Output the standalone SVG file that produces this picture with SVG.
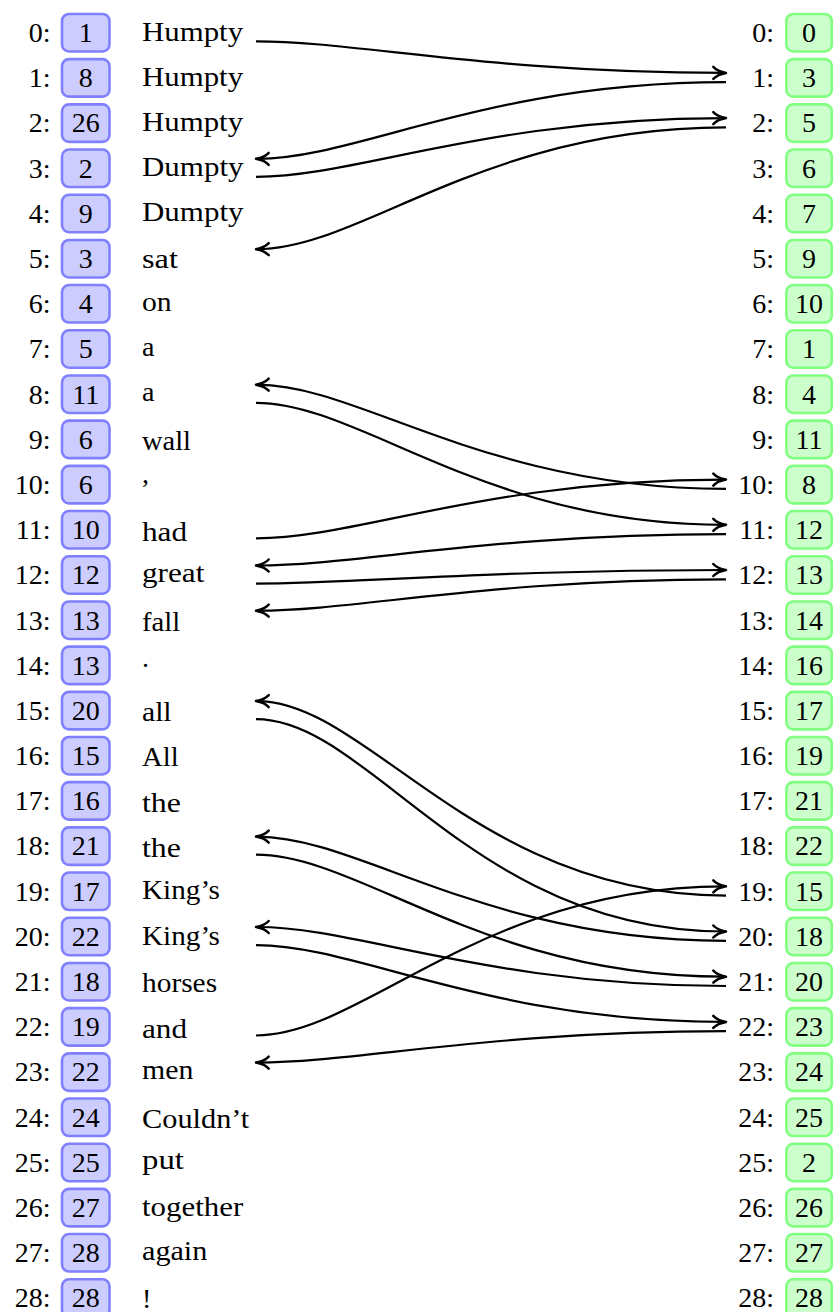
<svg xmlns="http://www.w3.org/2000/svg" width="833" height="1312" viewBox="0 0 833 1312">
  <style>
    text { font-family: "Liberation Serif", "Times New Roman", serif; font-size: 28px; fill: #000; }
    .idx { text-anchor: end; }
    .num { text-anchor: middle; }
    .lbox { fill: #ccccff; stroke: #8080ff; stroke-width: 2.6; }
    .rbox { fill: #ccffcc; stroke: #80ff80; stroke-width: 2.6; }
    .edge { fill: none; stroke: #000; stroke-width: 2.2; }
    .to-left { marker-start: url(#tip); }
    .to-right { marker-end: url(#tip); }
  </style>
  <defs>
    <marker id="tip" viewBox="-16 -9 20 18" refX="0" refY="0" markerWidth="20" markerHeight="18" markerUnits="userSpaceOnUse" orient="auto-start-reverse">
      <path d="M-11.5,-6 C-8.5,-2.8 -2.8,-0.7 1.2,0 C-2.8,0.7 -8.5,2.8 -11.5,6" fill="none" stroke="#000" stroke-width="2.5" stroke-linecap="round" stroke-linejoin="round"/>
    </marker>
    <rect id="lb" class="lbox" x="62" y="-18.75" width="47.5" height="37.5" rx="7"/>
    <rect id="rb" class="rbox" x="786.3" y="-18.75" width="45.5" height="37.5" rx="7"/>
  </defs>

  <!-- token column: index, id box, word -->
  <g id="left">
    <g id="l0" transform="translate(0,32.7)"><text class="idx" x="50.6" y="9.3">0:</text><use href="#lb"/><text class="num" x="85.75" y="9.3">1</text><text x="142" y="7.8" textLength="101.1" lengthAdjust="spacingAndGlyphs">Humpty</text></g>
    <g id="l1" transform="translate(0,77.9)"><text class="idx" x="50.6" y="9.3">1:</text><use href="#lb"/><text class="num" x="85.75" y="9.3">8</text><text x="142" y="7.8" textLength="101.1" lengthAdjust="spacingAndGlyphs">Humpty</text></g>
    <g id="l2" transform="translate(0,123.1)"><text class="idx" x="50.6" y="9.3">2:</text><use href="#lb"/><text class="num" x="85.75" y="9.3">26</text><text x="142" y="7.8" textLength="101.1" lengthAdjust="spacingAndGlyphs">Humpty</text></g>
    <g id="l3" transform="translate(0,168.3)"><text class="idx" x="50.6" y="9.3">3:</text><use href="#lb"/><text class="num" x="85.75" y="9.3">2</text><text x="142" y="7.8" textLength="101.5" lengthAdjust="spacingAndGlyphs">Dumpty</text></g>
    <g id="l4" transform="translate(0,213.5)"><text class="idx" x="50.6" y="9.3">4:</text><use href="#lb"/><text class="num" x="85.75" y="9.3">9</text><text x="142" y="7.8" textLength="101.5" lengthAdjust="spacingAndGlyphs">Dumpty</text></g>
    <g id="l5" transform="translate(0,258.7)"><text class="idx" x="50.6" y="9.3">5:</text><use href="#lb"/><text class="num" x="85.75" y="9.3">3</text><text x="142" y="9.6" textLength="35.9" lengthAdjust="spacingAndGlyphs">sat</text></g>
    <g id="l6" transform="translate(0,303.8)"><text class="idx" x="50.6" y="9.3">6:</text><use href="#lb"/><text class="num" x="85.75" y="9.3">4</text><text x="142" y="7" textLength="29.6" lengthAdjust="spacingAndGlyphs">on</text></g>
    <g id="l7" transform="translate(0,349)"><text class="idx" x="50.6" y="9.3">7:</text><use href="#lb"/><text class="num" x="85.75" y="9.3">5</text><text x="142" y="7">a</text></g>
    <g id="l8" transform="translate(0,394.2)"><text class="idx" x="50.6" y="9.3">8:</text><use href="#lb"/><text class="num" x="85.75" y="9.3">11</text><text x="142" y="7">a</text></g>
    <g id="l9" transform="translate(0,439.4)"><text class="idx" x="50.6" y="9.3">9:</text><use href="#lb"/><text class="num" x="85.75" y="9.3">6</text><text x="142" y="10.7" textLength="49" lengthAdjust="spacingAndGlyphs">wall</text></g>
    <g id="l10" transform="translate(0,484.6)"><text class="idx" x="50.6" y="9.3">10:</text><use href="#lb"/><text class="num" x="85.75" y="9.3">6</text><text x="142" y="-1.2">,</text></g>
    <g id="l11" transform="translate(0,529.8)"><text class="idx" x="50.6" y="9.3">11:</text><use href="#lb"/><text class="num" x="85.75" y="9.3">10</text><text x="142" y="10.7" textLength="45.1" lengthAdjust="spacingAndGlyphs">had</text></g>
    <g id="l12" transform="translate(0,575)"><text class="idx" x="50.6" y="9.3">12:</text><use href="#lb"/><text class="num" x="85.75" y="9.3">12</text><text x="142" y="6.9" textLength="62.3" lengthAdjust="spacingAndGlyphs">great</text></g>
    <g id="l13" transform="translate(0,620.2)"><text class="idx" x="50.6" y="9.3">13:</text><use href="#lb"/><text class="num" x="85.75" y="9.3">13</text><text x="142" y="10.7" textLength="38.1" lengthAdjust="spacingAndGlyphs">fall</text></g>
    <g id="l14" transform="translate(0,665.4)"><text class="idx" x="50.6" y="9.3">14:</text><use href="#lb"/><text class="num" x="85.75" y="9.3">13</text><text x="142" y="1.4">.</text></g>
    <g id="l15" transform="translate(0,710.6)"><text class="idx" x="50.6" y="9.3">15:</text><use href="#lb"/><text class="num" x="85.75" y="9.3">20</text><text x="142" y="10.7" textLength="29.6" lengthAdjust="spacingAndGlyphs">all</text></g>
    <g id="l16" transform="translate(0,755.7)"><text class="idx" x="50.6" y="9.3">16:</text><use href="#lb"/><text class="num" x="85.75" y="9.3">15</text><text x="142" y="10.7" textLength="36.6" lengthAdjust="spacingAndGlyphs">All</text></g>
    <g id="l17" transform="translate(0,800.9)"><text class="idx" x="50.6" y="9.3">17:</text><use href="#lb"/><text class="num" x="85.75" y="9.3">16</text><text x="142" y="10.7" textLength="38.9" lengthAdjust="spacingAndGlyphs">the</text></g>
    <g id="l18" transform="translate(0,846.1)"><text class="idx" x="50.6" y="9.3">18:</text><use href="#lb"/><text class="num" x="85.75" y="9.3">21</text><text x="142" y="10.7" textLength="38.9" lengthAdjust="spacingAndGlyphs">the</text></g>
    <g id="l19" transform="translate(0,891.3)"><text class="idx" x="50.6" y="9.3">19:</text><use href="#lb"/><text class="num" x="85.75" y="9.3">17</text><text x="142" y="8" textLength="77.9" lengthAdjust="spacingAndGlyphs">King’s</text></g>
    <g id="l20" transform="translate(0,936.5)"><text class="idx" x="50.6" y="9.3">20:</text><use href="#lb"/><text class="num" x="85.75" y="9.3">22</text><text x="142" y="8" textLength="77.9" lengthAdjust="spacingAndGlyphs">King’s</text></g>
    <g id="l21" transform="translate(0,981.7)"><text class="idx" x="50.6" y="9.3">21:</text><use href="#lb"/><text class="num" x="85.75" y="9.3">18</text><text x="142" y="10.7" textLength="75.1" lengthAdjust="spacingAndGlyphs">horses</text></g>
    <g id="l22" transform="translate(0,1026.9)"><text class="idx" x="50.6" y="9.3">22:</text><use href="#lb"/><text class="num" x="85.75" y="9.3">19</text><text x="142" y="10.7" textLength="45.1" lengthAdjust="spacingAndGlyphs">and</text></g>
    <g id="l23" transform="translate(0,1072.1)"><text class="idx" x="50.6" y="9.3">23:</text><use href="#lb"/><text class="num" x="85.75" y="9.3">22</text><text x="142" y="7" textLength="51.3" lengthAdjust="spacingAndGlyphs">men</text></g>
    <g id="l24" transform="translate(0,1117.3)"><text class="idx" x="50.6" y="9.3">24:</text><use href="#lb"/><text class="num" x="85.75" y="9.3">24</text><text x="142" y="10.7" textLength="107.3" lengthAdjust="spacingAndGlyphs">Couldn’t</text></g>
    <g id="l25" transform="translate(0,1162.5)"><text class="idx" x="50.6" y="9.3">25:</text><use href="#lb"/><text class="num" x="85.75" y="9.3">25</text><text x="142" y="6.9" textLength="42" lengthAdjust="spacingAndGlyphs">put</text></g>
    <g id="l26" transform="translate(0,1207.6)"><text class="idx" x="50.6" y="9.3">26:</text><use href="#lb"/><text class="num" x="85.75" y="9.3">27</text><text x="142" y="8" textLength="101.2" lengthAdjust="spacingAndGlyphs">together</text></g>
    <g id="l27" transform="translate(0,1252.8)"><text class="idx" x="50.6" y="9.3">27:</text><use href="#lb"/><text class="num" x="85.75" y="9.3">28</text><text x="142" y="7.6" textLength="65.3" lengthAdjust="spacingAndGlyphs">again</text></g>
    <g id="l28" transform="translate(0,1298)"><text class="idx" x="50.6" y="9.3">28:</text><use href="#lb"/><text class="num" x="85.75" y="9.3">28</text><text x="142" y="9.5">!</text></g>
  </g>

  <!-- sorted column: index, id box -->
  <g id="right">
    <g id="r0" transform="translate(0,32.7)"><text class="idx" x="774" y="9.3">0:</text><use href="#rb"/><text class="num" x="809" y="9.3">0</text></g>
    <g id="r1" transform="translate(0,77.9)"><text class="idx" x="774" y="9.3">1:</text><use href="#rb"/><text class="num" x="809" y="9.3">3</text></g>
    <g id="r2" transform="translate(0,123.1)"><text class="idx" x="774" y="9.3">2:</text><use href="#rb"/><text class="num" x="809" y="9.3">5</text></g>
    <g id="r3" transform="translate(0,168.3)"><text class="idx" x="774" y="9.3">3:</text><use href="#rb"/><text class="num" x="809" y="9.3">6</text></g>
    <g id="r4" transform="translate(0,213.5)"><text class="idx" x="774" y="9.3">4:</text><use href="#rb"/><text class="num" x="809" y="9.3">7</text></g>
    <g id="r5" transform="translate(0,258.7)"><text class="idx" x="774" y="9.3">5:</text><use href="#rb"/><text class="num" x="809" y="9.3">9</text></g>
    <g id="r6" transform="translate(0,303.8)"><text class="idx" x="774" y="9.3">6:</text><use href="#rb"/><text class="num" x="809" y="9.3">10</text></g>
    <g id="r7" transform="translate(0,349)"><text class="idx" x="774" y="9.3">7:</text><use href="#rb"/><text class="num" x="809" y="9.3">1</text></g>
    <g id="r8" transform="translate(0,394.2)"><text class="idx" x="774" y="9.3">8:</text><use href="#rb"/><text class="num" x="809" y="9.3">4</text></g>
    <g id="r9" transform="translate(0,439.4)"><text class="idx" x="774" y="9.3">9:</text><use href="#rb"/><text class="num" x="809" y="9.3">11</text></g>
    <g id="r10" transform="translate(0,484.6)"><text class="idx" x="774" y="9.3">10:</text><use href="#rb"/><text class="num" x="809" y="9.3">8</text></g>
    <g id="r11" transform="translate(0,529.8)"><text class="idx" x="774" y="9.3">11:</text><use href="#rb"/><text class="num" x="809" y="9.3">12</text></g>
    <g id="r12" transform="translate(0,575)"><text class="idx" x="774" y="9.3">12:</text><use href="#rb"/><text class="num" x="809" y="9.3">13</text></g>
    <g id="r13" transform="translate(0,620.2)"><text class="idx" x="774" y="9.3">13:</text><use href="#rb"/><text class="num" x="809" y="9.3">14</text></g>
    <g id="r14" transform="translate(0,665.4)"><text class="idx" x="774" y="9.3">14:</text><use href="#rb"/><text class="num" x="809" y="9.3">16</text></g>
    <g id="r15" transform="translate(0,710.6)"><text class="idx" x="774" y="9.3">15:</text><use href="#rb"/><text class="num" x="809" y="9.3">17</text></g>
    <g id="r16" transform="translate(0,755.7)"><text class="idx" x="774" y="9.3">16:</text><use href="#rb"/><text class="num" x="809" y="9.3">19</text></g>
    <g id="r17" transform="translate(0,800.9)"><text class="idx" x="774" y="9.3">17:</text><use href="#rb"/><text class="num" x="809" y="9.3">21</text></g>
    <g id="r18" transform="translate(0,846.1)"><text class="idx" x="774" y="9.3">18:</text><use href="#rb"/><text class="num" x="809" y="9.3">22</text></g>
    <g id="r19" transform="translate(0,891.3)"><text class="idx" x="774" y="9.3">19:</text><use href="#rb"/><text class="num" x="809" y="9.3">15</text></g>
    <g id="r20" transform="translate(0,936.5)"><text class="idx" x="774" y="9.3">20:</text><use href="#rb"/><text class="num" x="809" y="9.3">18</text></g>
    <g id="r21" transform="translate(0,981.7)"><text class="idx" x="774" y="9.3">21:</text><use href="#rb"/><text class="num" x="809" y="9.3">20</text></g>
    <g id="r22" transform="translate(0,1026.9)"><text class="idx" x="774" y="9.3">22:</text><use href="#rb"/><text class="num" x="809" y="9.3">23</text></g>
    <g id="r23" transform="translate(0,1072.1)"><text class="idx" x="774" y="9.3">23:</text><use href="#rb"/><text class="num" x="809" y="9.3">24</text></g>
    <g id="r24" transform="translate(0,1117.3)"><text class="idx" x="774" y="9.3">24:</text><use href="#rb"/><text class="num" x="809" y="9.3">25</text></g>
    <g id="r25" transform="translate(0,1162.5)"><text class="idx" x="774" y="9.3">25:</text><use href="#rb"/><text class="num" x="809" y="9.3">2</text></g>
    <g id="r26" transform="translate(0,1207.6)"><text class="idx" x="774" y="9.3">26:</text><use href="#rb"/><text class="num" x="809" y="9.3">26</text></g>
    <g id="r27" transform="translate(0,1252.8)"><text class="idx" x="774" y="9.3">27:</text><use href="#rb"/><text class="num" x="809" y="9.3">27</text></g>
    <g id="r28" transform="translate(0,1298)"><text class="idx" x="774" y="9.3">28:</text><use href="#rb"/><text class="num" x="809" y="9.3">28</text></g>
  </g>

  <!-- links between the two columns; all drawn left to right -->
  <g id="connectors">
    <path class="edge to-right" d="M256,41.3 C356.3,41.3 487.7,72.9 724.8,72.9"/>
    <path class="edge to-left" d="M257.2,158.8 C357.9,158.8 486.1,82.2 726,82.2"/>
    <path class="edge to-right" d="M256,176.9 C357.1,176.9 486.9,118.1 724.8,118.1"/>
    <path class="edge to-left" d="M257.2,249.2 C360.8,249.2 483.2,127.4 726,127.4"/>
    <path class="edge to-left" d="M257.2,384.7 C359.5,384.7 484.5,488.9 726,488.9"/>
    <path class="edge to-right" d="M256,402.8 C360.8,402.8 483.2,524.8 724.8,524.8"/>
    <path class="edge to-right" d="M256,538.4 C357.1,538.4 486.9,479.6 724.8,479.6"/>
    <path class="edge to-left" d="M257.2,565.5 C356.3,565.5 487.7,534.1 726,534.1"/>
    <path class="edge to-right" d="M256,583.6 C356.1,583.6 487.9,570 724.8,570"/>
    <path class="edge to-left" d="M257.2,610.7 C356.3,610.7 487.7,579.3 726,579.3"/>
    <path class="edge to-left" d="M257.2,701.1 C367.9,701.1 476.1,895.6 726,895.6"/>
    <path class="edge to-right" d="M256,719.2 C370.1,719.2 473.9,931.5 724.8,931.5"/>
    <path class="edge to-left" d="M257.2,836.6 C359.5,836.6 484.5,940.8 726,940.8"/>
    <path class="edge to-right" d="M256,854.7 C360.8,854.7 483.2,976.7 724.8,976.7"/>
    <path class="edge to-left" d="M257.2,927 C357.1,927 486.9,986 726,986"/>
    <path class="edge to-right" d="M256,945.1 C357.9,945.1 486.1,1021.9 724.8,1021.9"/>
    <path class="edge to-right" d="M256,1035.5 C363.1,1035.5 480.9,886.3 724.8,886.3"/>
    <path class="edge to-left" d="M257.2,1062.6 C356.3,1062.6 487.7,1031.2 726,1031.2"/>
  </g>
</svg>
